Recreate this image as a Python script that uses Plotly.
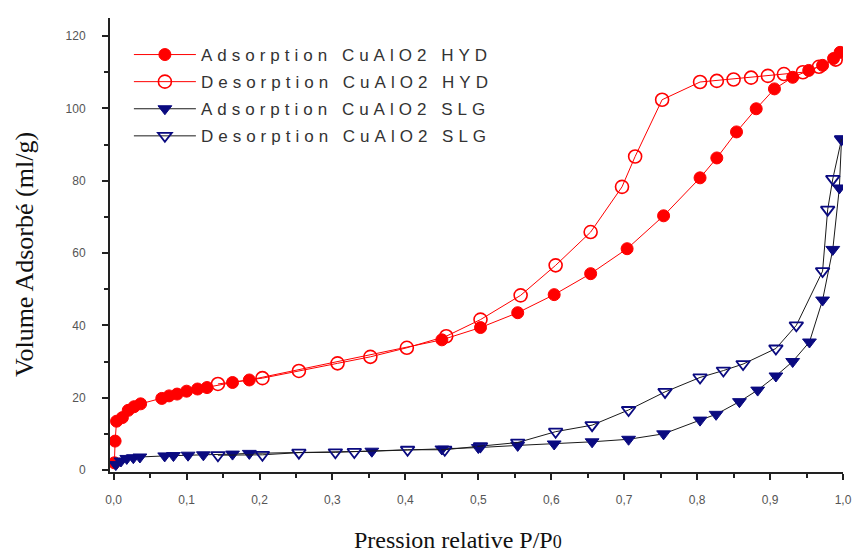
import plotly.graph_objects as go

# ---- data ----
hyd_ads_x = [0.001, 0.002, 0.004, 0.012, 0.020, 0.028, 0.037, 0.066, 0.076, 0.087, 0.100, 0.115,
             0.128, 0.163, 0.186, 0.450, 0.503, 0.554, 0.604, 0.654, 0.704, 0.754, 0.804, 0.827,
             0.854, 0.881, 0.906, 0.931, 0.953, 0.972, 0.987, 0.996]
hyd_ads_y = [2.0, 8.0, 13.5, 14.5, 16.5, 17.5, 18.3, 19.8, 20.5, 21.0, 21.8, 22.4,
             22.8, 24.2, 24.9, 36.0, 39.4, 43.5, 48.5, 54.3, 61.2, 70.3, 80.8, 86.3,
             93.5, 99.9, 105.4, 108.6, 110.5, 111.9, 113.8, 115.5]

hyd_des_x = [0.990, 0.967, 0.945, 0.919, 0.897, 0.874, 0.850, 0.827, 0.804, 0.752, 0.715, 0.697,
             0.654, 0.606, 0.558, 0.503, 0.456, 0.402, 0.352, 0.307, 0.254, 0.204, 0.143]
hyd_des_y = [113.5, 111.5, 110.0, 109.5, 109.0, 108.5, 108.0, 107.6, 107.3, 102.4, 86.7, 78.3,
             65.8, 56.6, 48.3, 41.6, 37.0, 33.8, 31.3, 29.5, 27.4, 25.4, 23.8]

slg_ads_x = [0.003, 0.010, 0.018, 0.027, 0.036, 0.070, 0.082, 0.102, 0.123, 0.163, 0.186, 0.354,
             0.450, 0.500, 0.554, 0.604, 0.656, 0.706, 0.754, 0.804, 0.826, 0.858, 0.883, 0.908,
             0.931, 0.954, 0.972, 0.986, 0.995, 0.998]
slg_ads_y = [1.5, 2.5, 3.2, 3.4, 3.6, 3.9, 4.0, 4.1, 4.2, 4.4, 4.6, 5.2,
             5.8, 6.2, 6.8, 7.2, 7.8, 8.5, 10.0, 13.8, 15.4, 18.9, 22.1, 26.0,
             30.0, 35.4, 47.0, 61.0, 78.0, 91.5]

slg_des_x = [0.998, 0.986, 0.979, 0.972, 0.936, 0.908, 0.863, 0.836, 0.804, 0.756, 0.706, 0.656,
             0.606, 0.554, 0.503, 0.454, 0.403, 0.330, 0.304, 0.254, 0.204, 0.143]
slg_des_y = [91.5, 80.5, 72.0, 55.0, 40.0, 33.6, 29.3, 27.5, 25.6, 21.6, 16.6, 12.4,
             10.6, 7.6, 6.6, 5.6, 5.6, 5.0, 4.9, 4.8, 4.2, 4.1]

names = ["Adsorption CuAlO2 HYD", "Desorption CuAlO2 HYD",
         "Adsorption CuAlO2 SLG", "Desorption CuAlO2 SLG"]

x_ticks = [0.0, 0.1, 0.2, 0.3, 0.4, 0.5, 0.6, 0.7, 0.8, 0.9, 1.0]
y_ticks = [0, 20, 40, 60, 80, 100, 120]

RED = "#ff0000"
NAVY = "#0a0a80"
DARK = "#1a1a1a"

def lab(t):
    return '<span style="letter-spacing:5px">' + t + '</span>'

fig = go.Figure()
fig.add_trace(go.Scatter(x=hyd_ads_x, y=hyd_ads_y, mode="lines+markers", name=lab(names[0]),
                         legendgroup="a",
                         line=dict(color=RED, width=1),
                         marker=dict(symbol="circle", size=12, color=RED, line=dict(color=RED, width=1))))
fig.add_trace(go.Scatter(x=hyd_des_x, y=hyd_des_y, mode="lines+markers", name=lab(names[1]),
                         legendgroup="b",
                         line=dict(color=RED, width=1),
                         marker=dict(symbol="circle-open", size=13, color=RED, line=dict(color=RED, width=1.6))))
fig.add_trace(go.Scatter(x=slg_ads_x, y=slg_ads_y, mode="lines+markers", name=lab(names[2]),
                         legendgroup="c",
                         line=dict(color=DARK, width=1),
                         marker=dict(symbol="triangle-down", size=12, color=NAVY, line=dict(color=NAVY, width=1))))
fig.add_trace(go.Scatter(x=slg_des_x, y=slg_des_y, mode="lines+markers", name=lab(names[3]),
                         legendgroup="d",
                         line=dict(color=DARK, width=1),
                         marker=dict(symbol="triangle-down-open", size=12, color=NAVY, line=dict(color=NAVY, width=1.8))))

L, R, T, B = 110, 17, 18, 85
W, H = 864, 557
plot_w = W - L - R
plot_h = H - T - B

fig.update_layout(
    width=W, height=H,
    margin=dict(l=L, r=R, t=T, b=B, pad=0),
    paper_bgcolor="white", plot_bgcolor="white",
    separators=", ",
    showlegend=True,
    legend=dict(x=(129 - L) / plot_w, y=1 - (37 - T) / plot_h, xanchor="left", yanchor="top",
                bgcolor="rgba(255,255,255,0)", borderwidth=0,
                font=dict(family="Liberation Sans, Arial", size=17, color="#333333"),
                itemwidth=62, tracegroupgap=2, traceorder="grouped"),
    xaxis=dict(range=[-0.005, 1.0], tickvals=x_ticks, tickformat=".1f",
               showgrid=False, zeroline=False, showline=True, linecolor="#222222", linewidth=2,
               ticks="outside", ticklen=6, tickwidth=1.5, tickcolor="#222222",
               ticklabelstandoff=10,
               tickfont=dict(family="Liberation Sans, Arial", size=12, color="#555555"),
               minor=dict(dtick=0.05, ticks="outside", ticklen=4, tickwidth=1.5, tickcolor="#222222")),
    yaxis=dict(range=[-0.55, 125], tickvals=y_ticks, tickformat="d",
               showgrid=False, zeroline=False, showline=True, linecolor="#222222", linewidth=2,
               ticks="outside", ticklen=6, tickwidth=1.5, tickcolor="#222222",
               ticklabelstandoff=14,
               tickfont=dict(family="Liberation Sans, Arial", size=12, color="#555555"),
               minor=dict(dtick=10, ticks="outside", ticklen=4, tickwidth=1.5, tickcolor="#222222")),
    annotations=[
        dict(text='Pression relative P/P<span style="font-size:18px">0</span>',
             xref="paper", yref="paper", x=(460 - L) / plot_w, y=0, yanchor="middle",
             yshift=-68, showarrow=False,
             font=dict(family="Liberation Serif, Times New Roman", size=24, color="#111111")),
        dict(text="Volume Adsorbé (ml/g)", textangle=-90,
             xref="paper", yref="paper", x=0, xshift=-85, xanchor="center",
             y=(H - B - 255) / plot_h, yanchor="middle", showarrow=False,
             font=dict(family="Liberation Serif, Times New Roman", size=26, color="#111111")),
    ],
)

fig.write_html("out.html")
